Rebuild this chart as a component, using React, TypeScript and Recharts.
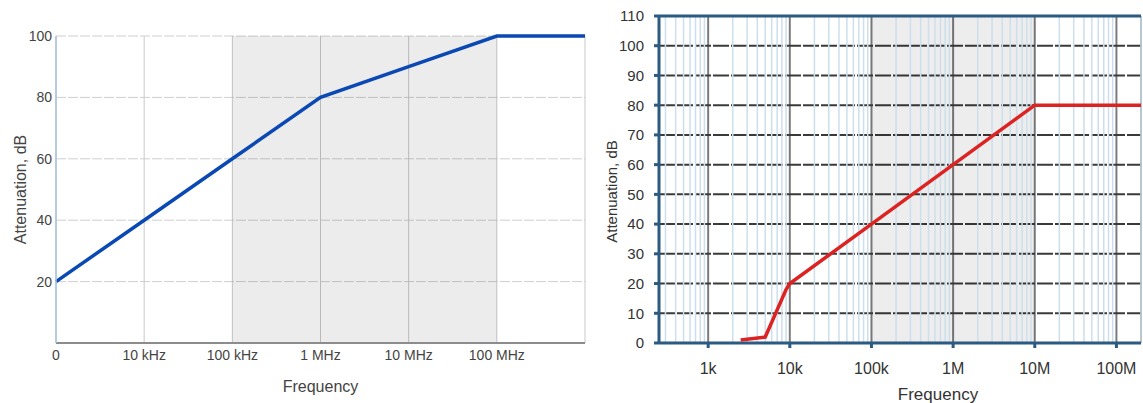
import {
  CartesianGrid,
  Line,
  LineChart,
  ReferenceArea,
  ReferenceLine,
  XAxis,
  YAxis,
} from "recharts";

// left chart
const leftFreq = [1e3, 1e4, 1e5, 1e6, 1e7, 1e8, 1e9];
const leftAtten = [20, 40, 60, 80, 90, 100, 100];
const leftTicks = [1e3, 1e4, 1e5, 1e6, 1e7, 1e8, 1e9];
const leftTickLabels = ["0", "10 kHz", "100 kHz", "1 MHz", "10 MHz", "100 MHz", ""];
const leftYTicks = [20, 40, 60, 80, 100];

// right chart
const rightFreq = [2.5e3, 5e3, 9e3, 1e4, 1e5, 1e6, 1e7, 2e8];
const rightAtten = [1, 2, 18, 20, 40, 60, 80, 80];
const rightTicks = [1e3, 1e4, 1e5, 1e6, 1e7, 1e8];
const rightTickLabels = ["1k", "10k", "100k", "1M", "10M", "100M"];
const rightYTicks = [0, 10, 20, 30, 40, 50, 60, 70, 80, 90, 100, 110];
const minorDecades = [1e2, 1e3, 1e4, 1e5, 1e6, 1e7, 1e8];
const minorSteps = [2, 3, 4, 5, 6, 7, 8, 9];

const leftData = leftFreq.map((f, i) => ({ f, v: leftAtten[i] }));
const rightData = rightFreq.map((f, i) => ({ f, v: rightAtten[i] }));
const minorLines = minorDecades.flatMap((d) => minorSteps.map((s) => d * s));

const font = "Liberation Sans, Arial, sans-serif";
const navy = "#2b5a82";

const LeftChart = () => (
  <LineChart
    width={600}
    height={403}
    data={leftData}
    margin={{ top: 36, right: 15, left: 0, bottom: 0 }}
    style={{ fontFamily: font }}
  >
    <CartesianGrid
      stroke="#cfcfcf"
      strokeDasharray="10 2"
      vertical={false}
    />
    <CartesianGrid stroke="#c8c8c8" horizontal={false} />
    <ReferenceArea x1={1e5} x2={1e8} fill="#000" fillOpacity={0.075} stroke="none" />
    <XAxis
      dataKey="f"
      type="number"
      scale="log"
      domain={[1e3, 1e9]}
      ticks={leftTicks}
      tickFormatter={(v: number) => leftTickLabels[leftTicks.indexOf(v)] ?? ""}
      height={60}
      tickLine={false}
      tickSize={0}
      tickMargin={7}
      axisLine={{ stroke: "#8c8c8c", strokeWidth: 2 }}
      tick={{ fill: "#444", fontSize: 14 }}
      label={{
        value: "Frequency",
        position: "insideBottom",
        offset: 11,
        fill: "#444",
        fontSize: 16,
      }}
    />
    <YAxis
      type="number"
      domain={[0, 100]}
      ticks={leftYTicks}
      width={56}
      tickLine={false}
      tickSize={0}
      tickMargin={4}
      axisLine={{ stroke: "#a9c3da", strokeWidth: 1.5 }}
      tick={{ fill: "#444", fontSize: 14 }}
      label={{
        value: "Attenuation, dB",
        angle: -90,
        position: "insideLeft",
        offset: 20,
        fill: "#444",
        fontSize: 16,
        style: { textAnchor: "middle" },
      }}
    />
    <Line
      dataKey="v"
      type="linear"
      stroke="#0a48b4"
      strokeWidth={3.5}
      dot={false}
      isAnimationActive={false}
    />
  </LineChart>
);

const RightChart = () => (
  <LineChart
    width={543}
    height={403}
    data={rightData}
    margin={{ top: 16, right: 2, left: 0, bottom: 0 }}
    style={{ fontFamily: font }}
  >
    <ReferenceArea x1={1e5} x2={1e7} fill="#000" fillOpacity={0.07} stroke="none" />
    {minorLines.map((m) => (
      <ReferenceLine key={m} x={m} stroke="#cddfec" strokeWidth={1.5} />
    ))}
    <CartesianGrid stroke="#7c7c7c" strokeWidth={2} horizontal={false} />
    <CartesianGrid
      stroke="#3a3a3a"
      strokeWidth={2}
      strokeDasharray="16 2"
      vertical={false}
    />
    <ReferenceLine y={110} stroke={navy} strokeWidth={3} />
    <XAxis
      dataKey="f"
      type="number"
      scale="log"
      domain={[250, 2e8]}
      ticks={rightTicks}
      tickFormatter={(v: number) => rightTickLabels[rightTicks.indexOf(v)] ?? ""}
      height={60}
      tickSize={5}
      tickMargin={15}
      tickLine={{ stroke: navy, strokeWidth: 3 }}
      axisLine={{ stroke: navy, strokeWidth: 3 }}
      tick={{ fill: "#333", fontSize: 16 }}
      label={{
        value: "Frequency",
        position: "insideBottom",
        offset: 3,
        dx: 38,
        fill: "#333",
        fontSize: 17,
      }}
    />
    <YAxis
      type="number"
      domain={[0, 110]}
      ticks={rightYTicks}
      width={59}
      tickSize={5}
      tickMargin={10}
      tickLine={{ stroke: navy, strokeWidth: 3 }}
      axisLine={{ stroke: navy, strokeWidth: 3 }}
      tick={{ fill: "#333", fontSize: 15 }}
      label={{
        value: "Attenuation, dB",
        angle: -90,
        position: "insideLeft",
        offset: 12,
        dy: 12,
        fill: "#333",
        fontSize: 15,
        style: { textAnchor: "middle" },
      }}
    />
    <Line
      dataKey="v"
      type="linear"
      stroke="#dd2222"
      strokeWidth={3.5}
      dot={false}
      isAnimationActive={false}
    />
  </LineChart>
);

export default function App() {
  return (
    <div
      style={{
        position: "absolute",
        left: 0,
        top: 0,
        width: 1143,
        height: 403,
        background: "#fff",
        display: "flex",
      }}
    >
      <LeftChart />
      <RightChart />
    </div>
  );
}
